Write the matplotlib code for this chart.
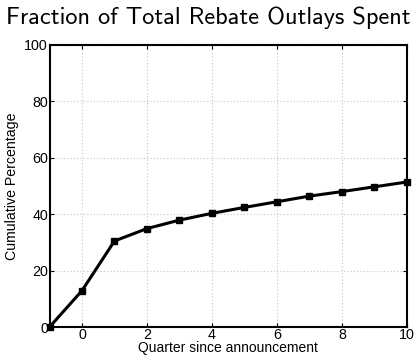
import numpy as np
import matplotlib
matplotlib.use("Agg")
import matplotlib.pyplot as plt

# Cumulative share of rebate outlays spent, by quarter relative to announcement
quarters = [-1, 0, 1, 2, 3, 4, 5, 6, 7, 8, 9, 10]
cum_pct = [0.0, 12.9, 30.5, 34.9, 37.9, 40.3, 42.4, 44.4, 46.4, 48.0, 49.7, 51.4]

x_ticks = [0, 2, 4, 6, 8, 10]
y_ticks = [0, 20, 40, 60, 80, 100]

plt.rcParams["font.family"] = ["Liberation Sans", "DejaVu Sans"]

fig = plt.figure(figsize=(4.16, 3.59), dpi=100)
ax = fig.add_axes([0.119, 0.089, 0.859, 0.786])

ax.plot(quarters, cum_pct, color="black", linewidth=2.2, marker="s",
        markersize=5, clip_on=False, zorder=3)

ax.set_xlim(-1, 10)
ax.set_ylim(0, 100)
ax.set_xticks(x_ticks)
ax.set_yticks(y_ticks)
ax.grid(True, linestyle=(0, (1, 2)), color="#c4c4c4", linewidth=0.8)

for s in ax.spines.values():
    s.set_linewidth(1.5)
ax.tick_params(direction="in", top=True, right=True, length=3, width=0.8,
               labelsize=10.3, pad=1)

ax.set_xlabel("Quarter since announcement", fontsize=10, labelpad=-1)
ax.set_ylabel("Cumulative Percentage", fontsize=10.2, labelpad=4)
fig.text(0.5, 0.95, "Fraction of Total Rebate Outlays Spent", ha="center",
         va="center", fontsize=17.5, family="cmss10")

fig.savefig("out.png", dpi=100)
